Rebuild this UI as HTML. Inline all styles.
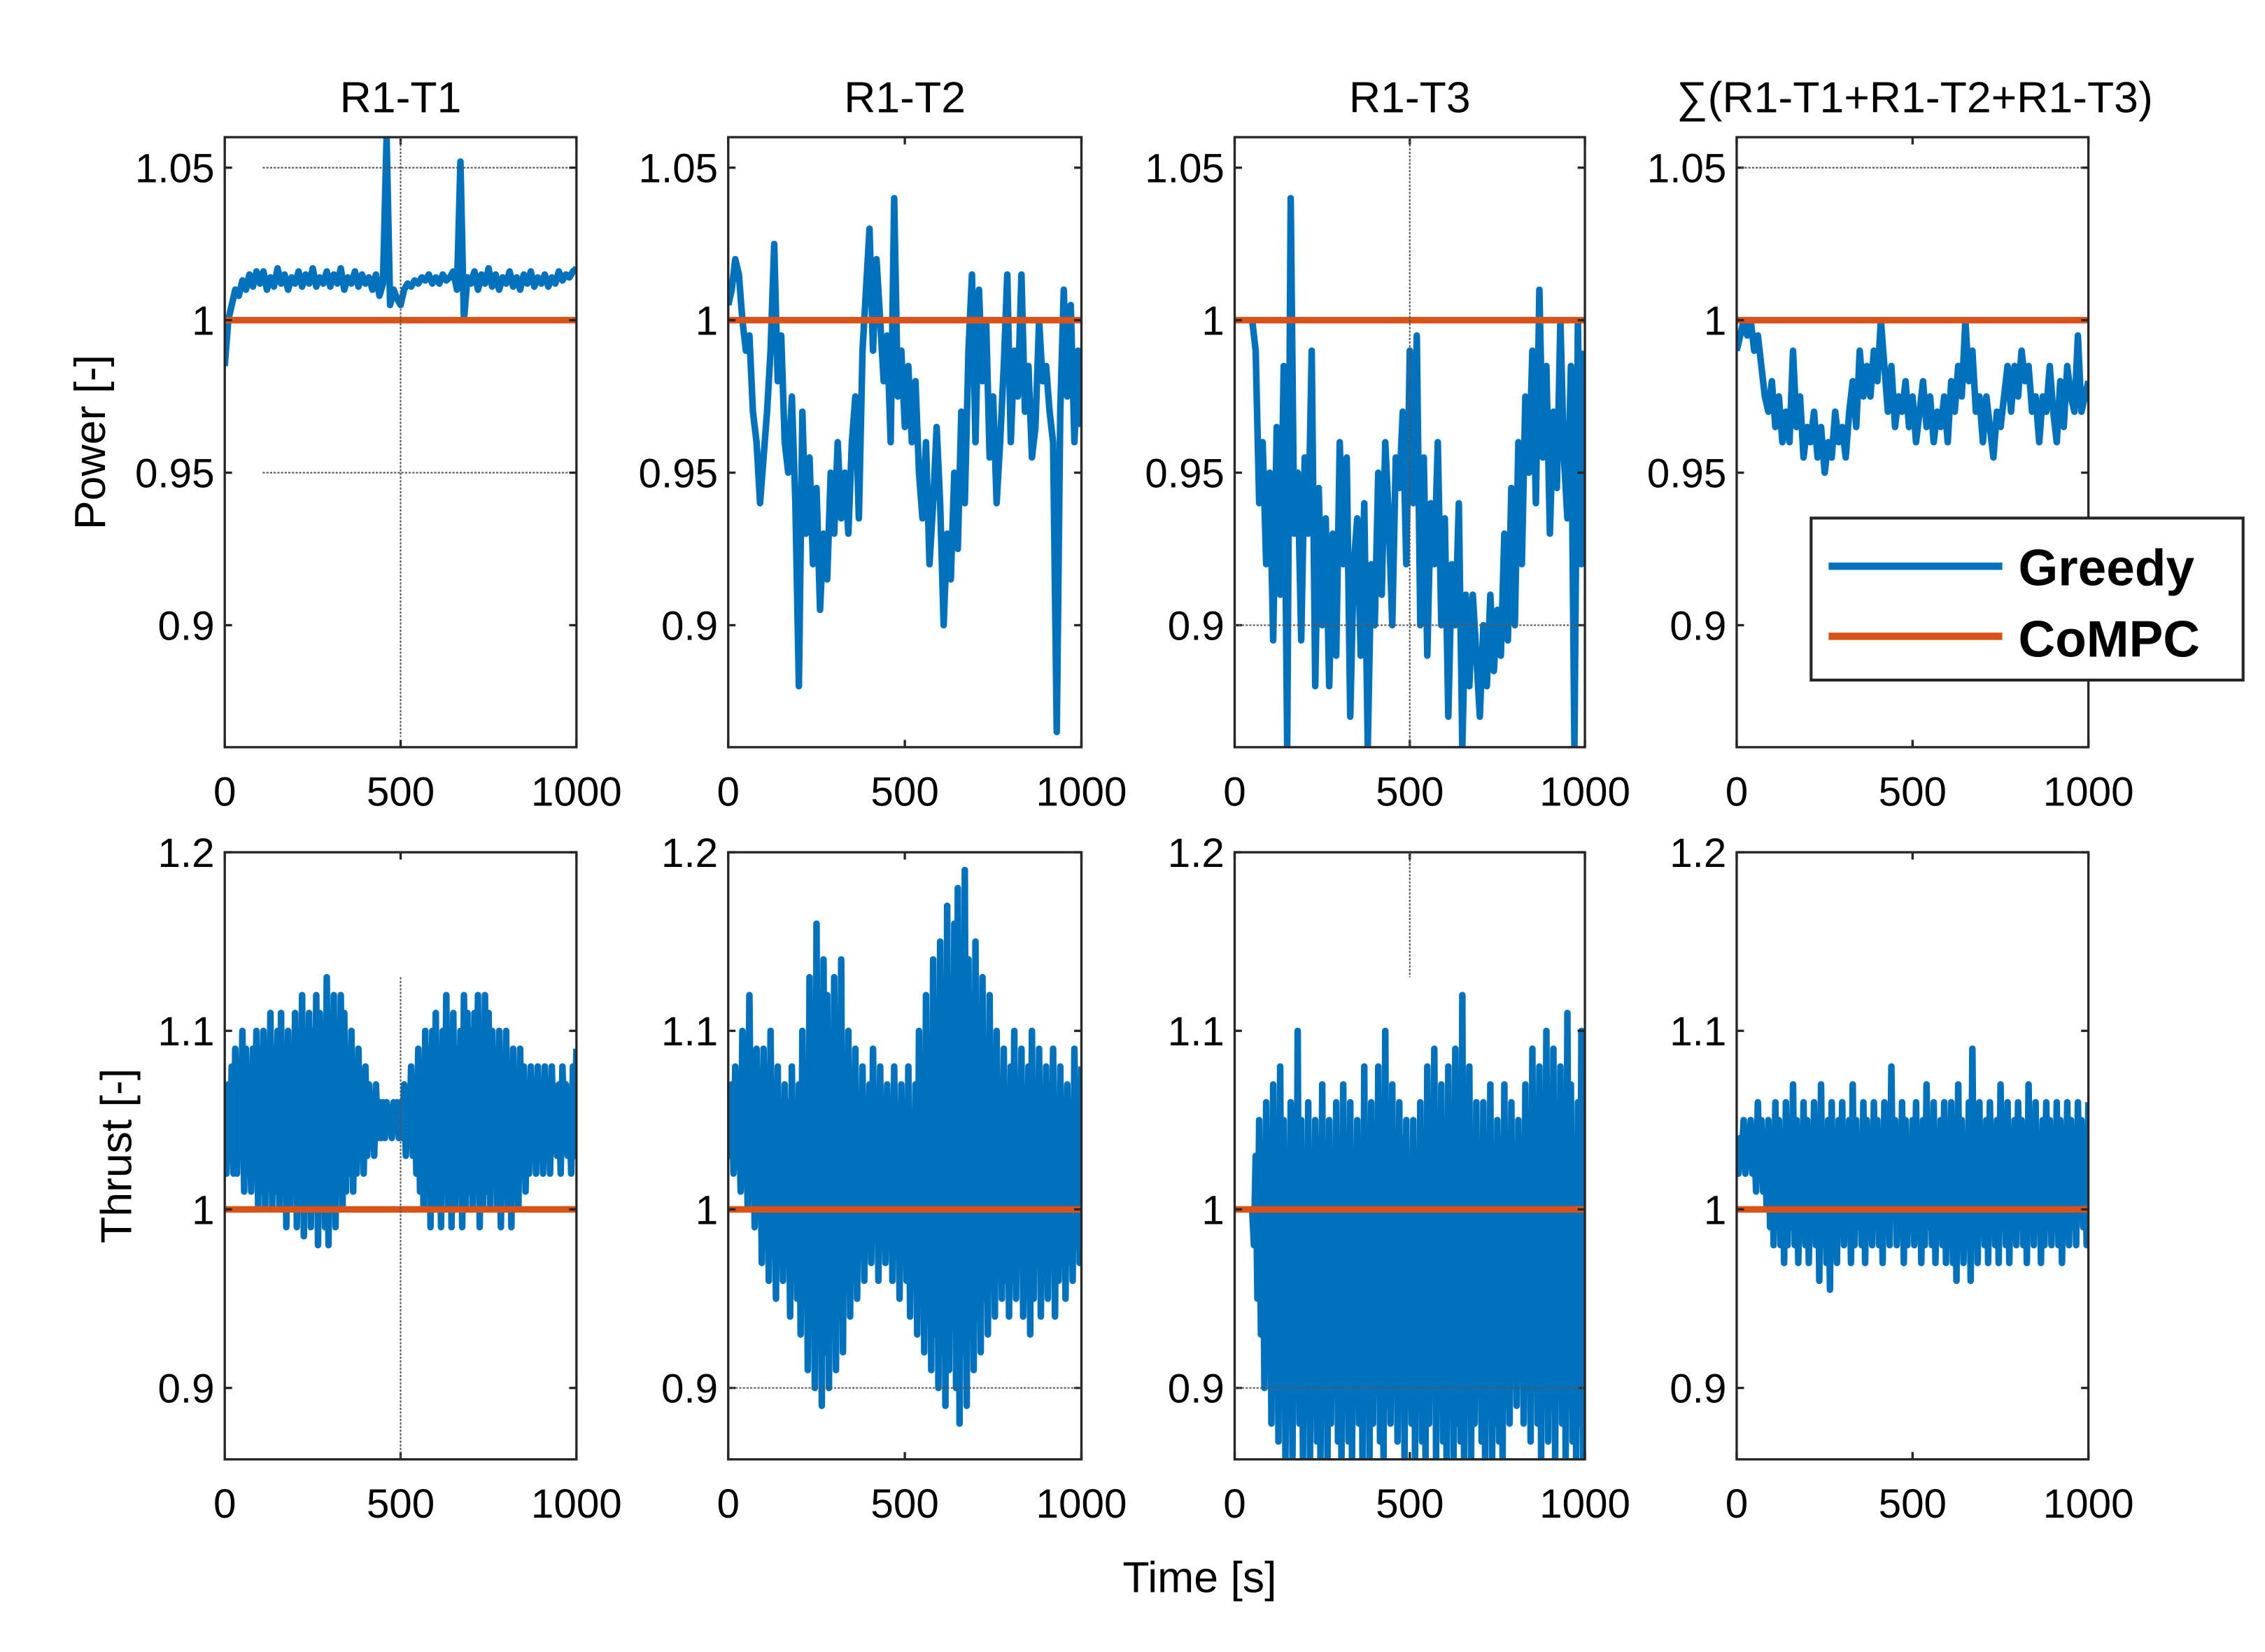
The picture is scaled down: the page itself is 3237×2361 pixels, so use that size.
<!DOCTYPE html>
<html><head><meta charset="utf-8">
<style>
html,body{margin:0;padding:0;background:#fff;}
svg{display:block;}
text{font-family:"Liberation Sans",Arial,sans-serif;fill:#000;}
</style></head>
<body>
<svg id="fig" width="3237" height="2361" viewBox="0 0 1552 1132" preserveAspectRatio="none" xmlns="http://www.w3.org/2000/svg">
<rect x="0" y="0" width="1552" height="1132" fill="#fff"/>
</svg>
<script>
// ---- data (time step 10 s, t = 0..1000) ----
const titles = ["R1-T1","R1-T2","R1-T3","\u2211(R1-T1+R1-T2+R1-T3)"];
const powerTicks = [0.9,0.95,1,1.05];
const powerTickLabels = ["0.9","0.95","1","1.05"];
const thrustTicks = [0.9,1,1.1,1.2];
const thrustTickLabels = ["0.9","1","1.1","1.2"];
const timeTicks = [0,500,1000];
const timeTickLabels = ["0","500","1000"];
const compmcValue = [1,1,1,1];

const powerT1 = [0.985,1.0,1.005,1.01,1.008,1.013,1.01,1.015,1.011,1.016,
1.012,1.016,1.01,1.014,1.011,1.017,1.012,1.015,1.01,1.014,
1.012,1.016,1.011,1.015,1.012,1.017,1.011,1.014,1.012,1.016,
1.011,1.015,1.012,1.017,1.01,1.014,1.012,1.016,1.011,1.015,
1.012,1.014,1.01,1.015,1.008,1.012,1.06,1.005,1.01,1.007,
1.005,1.01,1.012,1.011,1.013,1.012,1.014,1.013,1.015,1.012,
1.014,1.012,1.015,1.013,1.014,1.016,1.01,1.052,1.0,1.014,
1.012,1.016,1.01,1.015,1.012,1.017,1.011,1.015,1.01,1.014,
1.012,1.016,1.011,1.014,1.01,1.015,1.012,1.016,1.011,1.014,
1.012,1.015,1.011,1.014,1.012,1.016,1.013,1.015,1.014,1.016,1.017];
const powerT2 = [1.005,1.01,1.02,1.015,1.0,0.99,0.995,0.97,0.96,0.94,
0.955,0.97,0.99,1.025,0.98,0.995,0.96,0.95,0.975,0.94,
0.88,0.97,0.93,0.955,0.92,0.945,0.905,0.93,0.915,0.95,
0.93,0.96,0.935,0.95,0.93,0.96,0.975,0.935,0.99,1.01,
1.03,0.99,1.02,1.0,0.98,0.995,0.96,1.04,0.975,0.99,
0.965,0.985,0.96,0.98,0.95,0.935,0.96,0.92,0.94,0.965,
0.94,0.9,0.93,0.915,0.95,0.925,0.97,0.94,0.99,1.015,
0.96,1.01,0.98,1.0,0.955,0.975,0.94,0.96,0.985,1.015,
0.96,0.99,0.975,1.015,0.97,0.985,0.955,0.965,1.0,0.98,
0.985,0.97,0.96,0.865,0.97,1.01,0.975,1.005,0.96,0.99,0.965];
const powerT3 = [null,null,null,null,null,1.0,0.99,0.94,0.96,0.92,
0.95,0.895,0.965,0.91,0.985,0.86,1.04,0.93,0.95,0.895,
0.955,0.93,0.99,0.88,0.945,0.9,0.935,0.88,0.93,0.89,
0.96,0.92,0.955,0.87,0.92,0.935,0.89,0.94,0.86,0.92,
0.9,0.95,0.91,0.96,0.935,0.9,0.955,0.945,0.97,0.92,
0.99,0.94,0.995,0.9,0.955,0.89,0.94,0.92,0.96,0.9,
0.935,0.87,0.92,0.9,0.94,0.86,0.91,0.88,0.91,0.89,
0.87,0.9,0.88,0.91,0.885,0.905,0.89,0.93,0.895,0.945,
0.9,0.96,0.92,0.975,0.95,0.99,0.94,1.01,0.955,0.985,
0.93,0.97,0.945,1.0,0.955,0.935,0.985,0.86,1.0,0.92,0.99];
const powerSum = [0.99,0.995,1.0,0.995,1.0,0.99,0.995,0.985,0.975,0.97,
0.98,0.965,0.975,0.96,0.97,0.96,0.99,0.965,0.975,0.955,
0.965,0.96,0.97,0.955,0.965,0.95,0.96,0.955,0.97,0.96,
0.965,0.955,0.97,0.98,0.965,0.99,0.975,0.985,0.975,0.99,
0.98,1.0,0.985,0.97,0.985,0.965,0.975,0.97,0.98,0.965,
0.975,0.96,0.97,0.98,0.965,0.975,0.96,0.97,0.965,0.975,
0.96,0.98,0.97,0.985,0.975,1.0,0.98,0.99,0.97,0.975,
0.96,0.975,0.965,0.955,0.97,0.965,0.975,0.985,0.97,0.985,
0.975,0.99,0.98,0.985,0.97,0.975,0.96,0.975,0.97,0.985,
0.97,0.96,0.98,0.965,0.985,0.975,0.97,0.995,0.97,0.975,0.98];

const thrustT1Hi = [1.05,1.07,1.08,1.09,1.08,1.1,1.09,1.08,1.09,1.1,
1.09,1.1,1.08,1.11,1.09,1.1,1.11,1.09,1.1,1.08,
1.11,1.1,1.12,1.1,1.11,1.1,1.12,1.11,1.1,1.13,
1.11,1.12,1.1,1.12,1.11,1.09,1.1,1.08,1.09,1.07,
1.08,1.07,1.06,1.07,1.06,1.06,1.06,1.05,1.06,1.06,
1.06,1.07,1.06,1.08,1.07,1.09,1.08,1.1,1.09,1.1,
1.11,1.09,1.1,1.12,1.1,1.11,1.09,1.1,1.12,1.11,
1.1,1.11,1.12,1.1,1.12,1.11,1.1,1.09,1.1,1.08,
1.1,1.08,1.09,1.07,1.09,1.08,1.07,1.08,1.07,1.08,
1.07,1.08,1.07,1.08,1.06,1.07,1.08,1.07,1.06,1.08,1.09];
const thrustT1Lo = [1.02,1.03,1.02,1.02,1.03,1.01,1.02,1.01,1.02,1.0,
1.01,1.0,1.02,1.0,1.01,1.0,1.01,0.99,1.0,1.01,
0.99,1.0,0.985,1.0,0.99,1.0,0.98,1.0,0.99,0.98,
1.0,0.99,1.01,1.0,1.01,1.02,1.01,1.02,1.03,1.02,
1.03,1.04,1.03,1.04,1.04,1.04,1.05,1.04,1.05,1.04,
1.04,1.03,1.04,1.03,1.02,1.01,1.0,1.01,0.99,1.0,
1.0,0.99,1.01,1.0,0.99,1.0,1.01,0.99,1.0,1.01,
1.0,1.01,0.99,1.0,1.01,1.0,1.02,1.0,0.99,1.01,
1.0,0.99,1.01,1.0,1.02,1.01,1.02,1.03,1.02,1.03,
1.02,1.03,1.02,1.04,1.03,1.02,1.04,1.03,1.02,1.03,1.04];
const thrustT2Hi = [1.06,1.07,1.08,1.06,1.1,1.07,1.12,1.08,1.09,1.06,
1.09,1.07,1.1,1.06,1.08,1.05,1.07,1.06,1.08,1.05,
1.07,1.1,1.08,1.13,1.11,1.16,1.1,1.14,1.12,1.09,
1.13,1.1,1.14,1.08,1.1,1.07,1.09,1.06,1.08,1.05,
1.07,1.09,1.06,1.08,1.05,1.07,1.06,1.08,1.05,1.07,
1.06,1.08,1.05,1.07,1.1,1.08,1.12,1.09,1.14,1.1,
1.15,1.12,1.17,1.13,1.16,1.18,1.13,1.19,1.14,1.12,
1.15,1.1,1.13,1.09,1.12,1.08,1.1,1.07,1.09,1.06,
1.08,1.1,1.07,1.09,1.06,1.08,1.1,1.07,1.09,1.06,
1.08,1.07,1.09,1.06,1.08,1.05,1.07,1.06,1.09,1.07,1.08];
const thrustT2Lo = [1.03,1.02,1.04,1.01,1.02,1.0,1.02,0.99,1.01,0.97,
0.99,0.96,0.98,0.95,0.97,0.96,0.98,0.94,0.97,0.95,
0.93,0.95,0.91,0.94,0.9,0.93,0.89,0.92,0.9,0.94,
0.91,0.95,0.92,0.96,0.94,0.97,0.95,0.98,0.96,0.99,
0.97,0.99,0.96,0.98,0.97,1.0,0.96,0.98,0.95,0.97,
0.96,0.94,0.97,0.93,0.95,0.92,0.94,0.91,0.93,0.9,
0.92,0.89,0.91,0.94,0.9,0.88,0.92,0.89,0.93,0.91,
0.94,0.92,0.95,0.93,0.96,0.94,0.97,0.95,0.96,0.94,
0.96,0.95,0.97,0.94,0.96,0.93,0.95,0.97,0.94,0.96,
0.95,0.97,0.94,0.96,0.98,0.95,0.97,0.96,0.98,0.97,0.98];
const thrustT3Hi = [null,null,null,null,null,1.0,1.03,1.05,1.02,1.06,
1.03,1.07,1.04,1.08,1.05,1.02,1.06,1.04,1.1,1.05,
1.03,1.06,1.02,1.05,1.04,1.07,1.03,1.05,1.02,1.06,
1.04,1.07,1.03,1.06,1.02,1.05,1.03,1.08,1.04,1.06,
1.03,1.08,1.05,1.1,1.04,1.07,1.03,1.06,1.04,1.05,
1.02,1.05,1.03,1.06,1.04,1.08,1.05,1.09,1.04,1.07,
1.05,1.08,1.04,1.09,1.06,1.12,1.05,1.08,1.04,1.06,
1.03,1.06,1.04,1.07,1.03,1.05,1.04,1.07,1.03,1.06,
1.02,1.05,1.04,1.07,1.05,1.09,1.06,1.08,1.05,1.1,
1.06,1.09,1.05,1.08,1.06,1.11,1.07,1.04,1.06,1.1,1.08];
const thrustT3Lo = [null,null,null,null,null,0.98,0.95,0.93,0.9,0.92,
0.88,0.91,0.87,0.9,0.86,0.89,0.86,0.9,0.88,0.86,
0.89,0.86,0.9,0.87,0.86,0.89,0.86,0.88,0.9,0.87,
0.86,0.89,0.87,0.86,0.9,0.88,0.86,0.89,0.86,0.88,
0.9,0.87,0.86,0.89,0.88,0.91,0.87,0.9,0.86,0.89,
0.88,0.86,0.89,0.87,0.86,0.88,0.9,0.86,0.89,0.87,
0.86,0.89,0.86,0.88,0.87,0.86,0.89,0.86,0.88,0.9,
0.87,0.86,0.89,0.86,0.88,0.87,0.86,0.89,0.88,0.91,
0.89,0.92,0.88,0.9,0.87,0.91,0.88,0.86,0.9,0.87,
0.89,0.86,0.9,0.88,0.86,0.89,0.87,0.86,0.88,0.86,0.95];
const thrustSumHi = [1.03,1.04,1.05,1.04,1.05,1.04,1.06,1.05,1.04,1.05,
1.04,1.06,1.05,1.04,1.06,1.05,1.07,1.05,1.04,1.06,
1.05,1.04,1.06,1.05,1.07,1.04,1.05,1.06,1.04,1.05,
1.06,1.04,1.05,1.07,1.05,1.04,1.06,1.05,1.04,1.06,
1.05,1.04,1.06,1.05,1.08,1.05,1.04,1.06,1.05,1.04,
1.05,1.06,1.04,1.05,1.07,1.05,1.06,1.04,1.05,1.06,
1.04,1.06,1.05,1.07,1.05,1.04,1.06,1.09,1.05,1.06,
1.04,1.05,1.06,1.04,1.05,1.07,1.05,1.06,1.04,1.05,
1.06,1.05,1.04,1.07,1.05,1.06,1.04,1.05,1.06,1.05,
1.04,1.06,1.05,1.04,1.06,1.05,1.04,1.06,1.05,1.04,1.06];
const thrustSumLo = [1.02,1.03,1.02,1.03,1.02,1.01,1.02,1.01,1.0,0.99,
0.98,0.99,0.98,0.97,0.98,0.99,0.98,0.97,0.99,0.98,
0.97,0.99,0.98,0.96,0.98,0.97,0.955,0.98,0.97,0.99,
0.98,0.99,0.97,0.98,0.99,0.98,0.97,0.99,0.98,0.99,
0.98,0.97,0.99,0.98,1.0,0.98,0.99,0.97,0.98,0.99,
0.98,0.99,0.97,0.98,0.99,0.98,0.97,0.99,0.98,0.97,
0.98,0.97,0.96,0.98,0.97,0.99,0.96,0.98,0.97,0.99,
0.98,0.97,0.99,0.98,0.97,0.99,0.98,0.97,0.99,0.98,
0.99,0.98,0.97,0.99,0.98,0.99,0.97,0.98,0.99,0.98,
0.99,0.98,0.97,0.99,0.98,0.99,0.98,1.0,0.99,0.98,0.99];

const powerSeries = [powerT1,powerT2,powerT3,powerSum];
const thrustHiSeries = [thrustT1Hi,thrustT2Hi,thrustT3Hi,thrustSumHi];
const thrustLoSeries = [thrustT1Lo,thrustT2Lo,thrustT3Lo,thrustSumLo];

// ---- layout ----
const NS="http://www.w3.org/2000/svg";
const svg=document.getElementById('fig');
const colX=[[154,395],[499,741],[846,1086],[1190,1431]];
const rowY=[[94,512],[584,1000]];
const yLims=[[0.86,1.06],[0.86,1.2]];
const BLUE="#0072BD", ORANGE="#D95319";
function mk(tag,attrs,parent){const e=document.createElementNS(NS,tag);for(const k in attrs)e.setAttribute(k,attrs[k]);(parent||svg).appendChild(e);return e;}
function xScale(c,t){return colX[c][0]+(t-0)/(1000-0)*(colX[c][1]-colX[c][0]);}
function yScale(r,v){const [a,b]=yLims[r];return rowY[r][1]-(v-a)/(b-a)*(rowY[r][1]-rowY[r][0]);}

function grey(x1,y1,x2,y2){const l=mk('line',{x1,y1,x2,y2,stroke:'#555','stroke-width':1,'stroke-dasharray':'1.5,1'});

}

for(let r=0;r<2;r++){
 for(let c=0;c<4;c++){
  const g=mk('g',{});
  
  
  const x0=colX[c][0],x1=colX[c][1],y0=rowY[r][0],y1=rowY[r][1];
  const cid='clip'+r+c;
  const cp=mk('clipPath',{id:cid},g);mk('rect',{x:x0,y:y0,width:x1-x0,height:y1-y0},cp);
  if(r===0&&c===0){grey(180,yScale(0,1.05),390,yScale(0,1.05));grey(180,yScale(0,0.95),390,yScale(0,0.95));grey(xScale(0,500),y0,xScale(0,500),505);}
  if(r===0&&c===2){grey(xScale(2,500),y0,xScale(2,500),y1);grey(x0,yScale(0,0.9),x1,yScale(0,0.9));}
  if(r===0&&c===3){grey(x0+3,yScale(0,1.05),x1-3,yScale(0,1.05));}
  if(r===1&&c===0){grey(xScale(0,500),yScale(1,1.13),xScale(0,500),y1);}
  if(r===1&&c===1){grey(x0,yScale(1,0.9),x1,yScale(1,0.9));}
  if(r===1&&c===2){grey(xScale(2,500),y0,xScale(2,500),yScale(1,1.13));grey(x0,yScale(1,0.9),x1,yScale(1,0.9));}
  const dg=mk('g',{'clip-path':'url(#'+cid+')'},g);
  let pts=[];
  if(r===0){
   const arr=powerSeries[c];
   arr.forEach((v,i)=>{if(v!==null)pts.push(xScale(c,i*10).toFixed(1)+','+yScale(0,v).toFixed(1));});
  } else {
   const hi=thrustHiSeries[c], lo=thrustLoSeries[c];
   hi.forEach((v,i)=>{if(v!==null){pts.push(xScale(c,i*10).toFixed(1)+','+yScale(1,v).toFixed(1));
     if(i<hi.length-1)pts.push(xScale(c,i*10+5).toFixed(1)+','+yScale(1,lo[i]).toFixed(1));}});
  }
  const gl=mk('polyline',{points:pts.join(' '),fill:'none',stroke:BLUE,'stroke-width':4.5,'stroke-linejoin':'round'},dg);
  
  
  const ol=mk('line',{x1:x0,x2:x1,y1:yScale(r,compmcValue[c]),y2:yScale(r,compmcValue[c]),stroke:ORANGE,'stroke-width':4.5},dg);
  
  
  mk('rect',{x:x0,y:y0,width:x1-x0,height:y1-y0,fill:'none',stroke:'#262626','stroke-width':1.6},g);
  const yt=r===0?powerTicks:thrustTicks, yl=r===0?powerTickLabels:thrustTickLabels;
  yt.forEach((v,i)=>{const y=yScale(r,v);
   mk('line',{x1:x0,x2:x0+5,y1:y,y2:y,stroke:'#262626','stroke-width':1.6},g);
   mk('line',{x1:x1,x2:x1-5,y1:y,y2:y,stroke:'#262626','stroke-width':1.6},g);
   const t=mk('text',{x:x0-7,y:y+10,'text-anchor':'end','font-size':28},g);t.textContent=yl[i];
   
   });
  timeTicks.forEach((v,i)=>{const x=xScale(c,v);
   mk('line',{x1:x,x2:x,y1:y1,y2:y1-5,stroke:'#262626','stroke-width':1.6},g);
   mk('line',{x1:x,x2:x,y1:y0,y2:y0+5,stroke:'#262626','stroke-width':1.6},g);
   const t=mk('text',{x:x,y:y1+40,'text-anchor':'middle','font-size':28},g);t.textContent=timeTickLabels[i];
   
   });
  if(r===0){const t=mk('text',{x:c===3?1312:(x0+x1)/2,y:77,'text-anchor':'middle','font-size':30},g);t.textContent=titles[c];
   
   }
 }
}
let t=mk('text',{x:0,y:0,'text-anchor':'middle','font-size':30,transform:'translate(72,303) rotate(-90)'});t.textContent='Power [-]';


t=mk('text',{x:0,y:0,'text-anchor':'middle','font-size':30,transform:'translate(90,792) rotate(-90)'});t.textContent='Thrust [-]';


t=mk('text',{x:822,y:1091,'text-anchor':'middle','font-size':30});t.textContent='Time [s]';


const lg=mk('g',{});


mk('rect',{x:1241,y:355,width:296,height:111,fill:'#fff',stroke:'#262626','stroke-width':2},lg);
mk('line',{x1:1253,x2:1372,y1:388,y2:388,stroke:BLUE,'stroke-width':5},lg);
mk('line',{x1:1253,x2:1372,y1:436,y2:436,stroke:ORANGE,'stroke-width':5},lg);
t=mk('text',{x:1383,y:401,'font-size':35,'font-weight':'bold'},lg);t.textContent='Greedy';


t=mk('text',{x:1383,y:450,'font-size':35,'font-weight':'bold'},lg);t.textContent='CoMPC';


</script>
</body></html>
